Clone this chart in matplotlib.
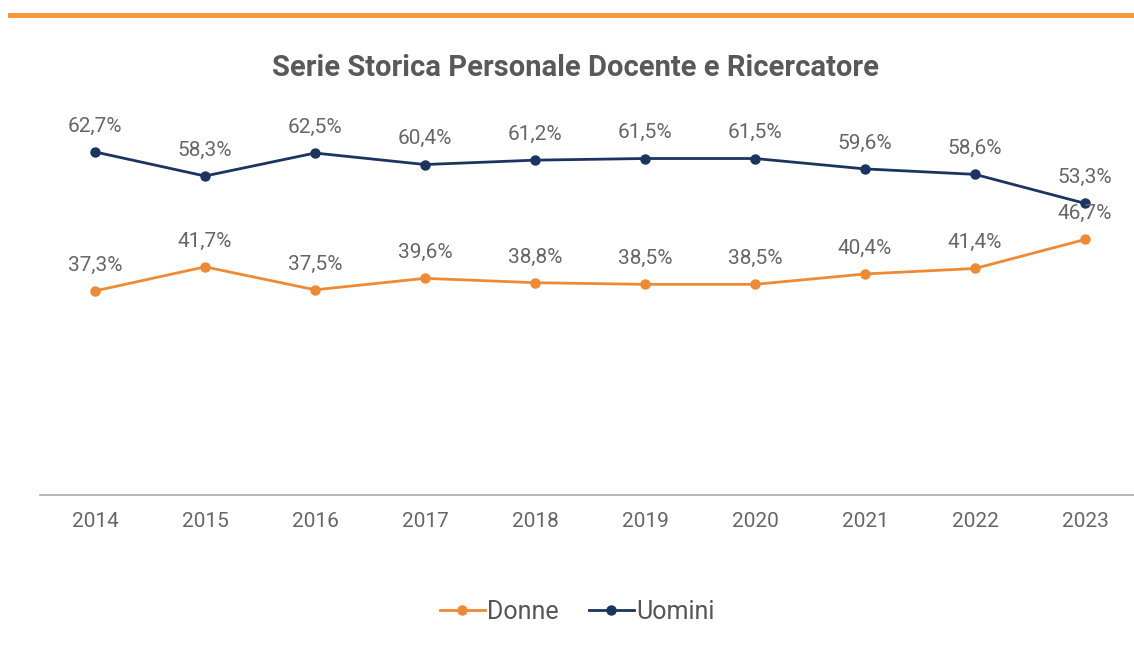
import matplotlib
matplotlib.use("Agg")
import matplotlib.pyplot as plt
from matplotlib.patches import Rectangle

years = ["2014", "2015", "2016", "2017", "2018", "2019", "2020", "2021", "2022", "2023"]
donne = [37.3, 41.7, 37.5, 39.6, 38.8, 38.5, 38.5, 40.4, 41.4, 46.7]
uomini = [62.7, 58.3, 62.5, 60.4, 61.2, 61.5, 61.5, 59.6, 58.6, 53.3]

plt.rcParams['font.family'] = ['Roboto', 'DejaVu Sans']

W, H = 1134, 657
fig = plt.figure(figsize=(W / 100, H / 100), dpi=100)
fig.patch.set_facecolor('white')

# top orange band
fig.add_artist(Rectangle((8 / W, 1 - 18 / H), 1 - 8 / W, 5 / H, transform=fig.transFigure,
                         color='#F7983A', lw=0))

ax_left, ax_right = 40 / W, 1.0
ax_bottom, ax_top = 1 - 495 / H, 1 - 112 / H
ax = fig.add_axes([ax_left, ax_bottom, ax_right - ax_left, ax_top - ax_bottom])

x = list(range(len(years)))
c_d = '#EE8A35'
c_u = '#1B3560'
ax.plot(x, donne, color=c_d, lw=2.0, marker='o', ms=6.5, label='Donne')
ax.plot(x, uomini, color=c_u, lw=2.0, marker='o', ms=6.5, label='Uomini')

for xi, v in zip(x, donne):
    ax.annotate(f"{v:.1f}%".replace('.', ','), (xi, v), xytext=(0, 18.5), textcoords='offset points',
                ha='center', va='center', fontsize=15, color='#666666')
for xi, v in zip(x, uomini):
    ax.annotate(f"{v:.1f}%".replace('.', ','), (xi, v), xytext=(0, 18.5), textcoords='offset points',
                ha='center', va='center', fontsize=15, color='#666666')

ax.set_xlim(-0.5, -0.5 + (W - 40) / 110)
ax.set_ylim(0, 70)
ax.set_xticks(x)
ax.set_xticklabels(years, fontsize=15, color='#666666')
ax.set_yticks([])
for s in ['top', 'right', 'left']:
    ax.spines[s].set_visible(False)
ax.spines['bottom'].set_color('#AAAAAA')
ax.spines['bottom'].set_linewidth(1.2)
ax.tick_params(axis='x', length=0, pad=12)

fig.text(575 / W, 1 - 68 / H, "Serie Storica Personale Docente e Ricercatore",
         ha='center', va='center', fontsize=21, fontweight='bold', color='#595959')

leg = fig.legend(loc='center', bbox_to_anchor=(577 / W, 1 - 612 / H), ncol=2, frameon=False,
                 fontsize=18, handlelength=1.8, handletextpad=0.1, columnspacing=1.2)
for t in leg.get_texts():
    t.set_color('#555555')

fig.savefig('out.png', dpi=100, facecolor='white')
